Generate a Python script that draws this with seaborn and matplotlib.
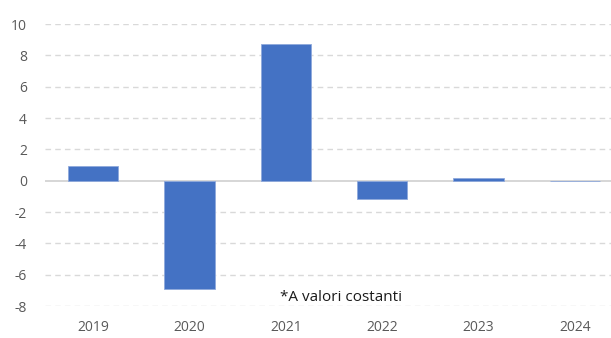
import matplotlib
matplotlib.use("Agg")
import matplotlib.pyplot as plt
import seaborn as sns
import pandas as pd

years = ["2019", "2020", "2021", "2022", "2023", "2024"]
values = [0.95, -6.9, 8.7, -1.2, 0.2, -0.05]
y_ticks = [-8, -6, -4, -2, 0, 2, 4, 6, 8, 10]
note = "*A valori costanti"

sns.set_theme(style="white")
plt.rcParams["font.family"] = ["Open Sans", "DejaVu Sans"]

df = pd.DataFrame({"anno": years, "valore": values})

fig = plt.figure(figsize=(6.11, 3.38), dpi=100)
ax = fig.add_axes([45 / 611, 1 - 306 / 338, 578 / 611, (306 - 24) / 338])

sns.barplot(data=df, x="anno", y="valore", color="#4472C4", saturation=1,
            width=0.52, edgecolor="#8fa9dc", linewidth=0.6, ax=ax, zorder=3)

ax.set_ylim(-8, 10)
ax.set_yticks(y_ticks)
ax.set_yticklabels([str(t) for t in y_ticks])
ax.set_xlim(-0.5, len(years) - 0.5)

for t in y_ticks:
    if t == 0:
        ax.axhline(0, color="#d0d0d0", lw=1.2, zorder=2)
    else:
        ax.axhline(t, color="#d9d9d9", lw=1.0, ls=(0, (4, 3)), zorder=1)

for s in ax.spines.values():
    s.set_visible(False)

ax.tick_params(axis="both", length=0, labelsize=10, colors="#595959")
ax.tick_params(axis="y", pad=13)
ax.tick_params(axis="x", pad=10)
ax.set_xlabel("")
ax.set_ylabel("")

ax.text(2.57, -7.45, note, ha="center", va="center", fontsize=11, color="#1a1a1a")

fig.savefig("out.png", dpi=100)
